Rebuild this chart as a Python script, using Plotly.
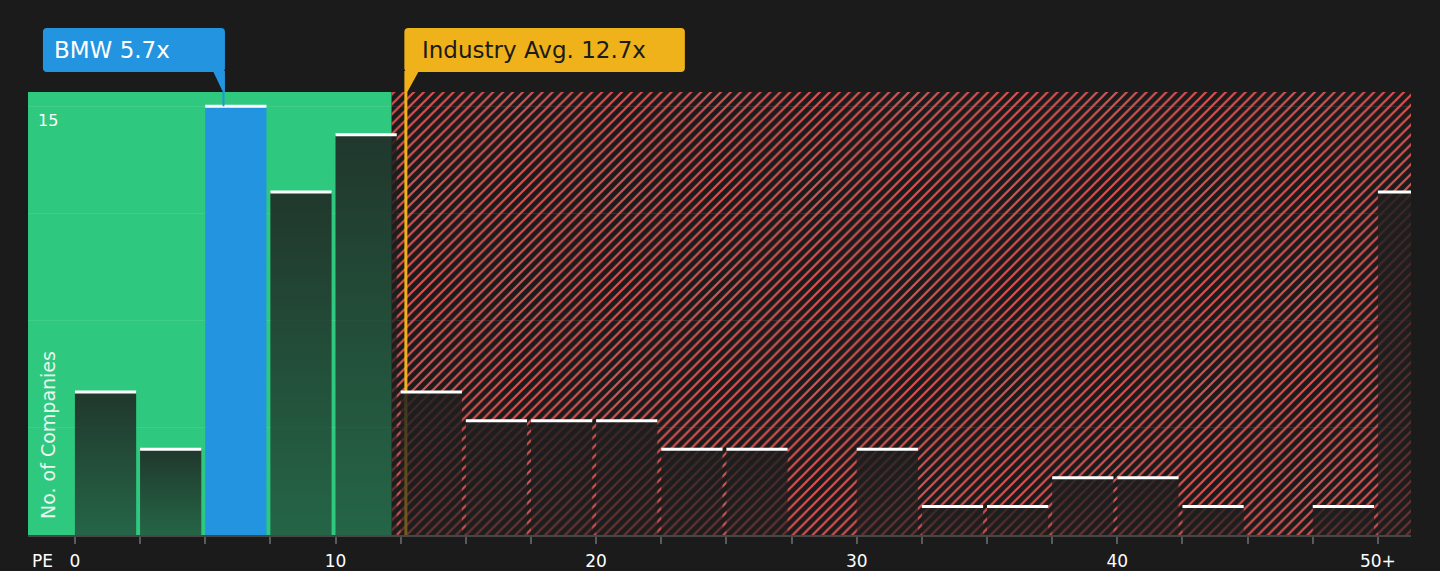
import plotly.graph_objects as go

# PE histogram, bins of 2.5, last one is "50+"
bin_left = [0, 2.5, 5, 7.5, 10, 12.5, 15, 17.5, 20, 22.5, 25, 27.5,
            30, 32.5, 35, 37.5, 40, 42.5, 45, 47.5, 50]
counts = [5, 3, 15, 12, 14, 5, 4, 4, 4, 3, 3, 0, 3, 1, 1, 2, 2, 1, 0, 1, 12]

tick_vals = [0, 10, 20, 30, 40, 50]
tick_text = ["0", "10", "20", "30", "40", "50+"]

company = "BMW"
company_pe = 5.7
industry_pe = 12.7
fair_edge = 12.15

BG = "#1b1b1b"
GREEN = "#2ec87f"
BLUE = "#2394e0"
ORANGE = "#efb21a"
HATCH = "#d85151"
FONT = "DejaVu Sans"

bar_w = 2.35
x_range = [-1.8, 51.27]
y_range = [0, 15.5]

fig = go.Figure()

# hatched "expensive" zone
fig.add_trace(go.Scatter(
    x=[fair_edge, 60, 60, fair_edge, fair_edge],
    y=[0, 0, 20, 20, 0],
    mode="none", fill="toself", fillcolor="rgba(0,0,0,0)",
    fillpattern=dict(shape="/", fgcolor=HATCH, bgcolor="rgba(0,0,0,0)",
                     fgopacity=1, size=7, solidity=0.32),
    hoverinfo="skip", showlegend=False))

# industry average line (under the bars)
fig.add_trace(go.Scatter(
    x=[industry_pe, industry_pe], y=[0, 20], mode="lines",
    line=dict(color=ORANGE, width=3), hoverinfo="skip", showlegend=False))

bmw_bin = max(i for i, l in enumerate(bin_left) if l <= company_pe)

for i, (l, c) in enumerate(zip(bin_left, counts)):
    if c == 0:
        continue
    xs = [l, l + bar_w, l + bar_w, l, l]
    ys = [0, 0, c, c, 0]
    if i == bmw_bin:
        fig.add_trace(go.Scatter(x=xs, y=ys, mode="none", fill="toself",
                                 fillcolor=BLUE, hoverinfo="skip",
                                 showlegend=False))
    else:
        fig.add_trace(go.Scatter(
            x=xs, y=ys, mode="none", fill="toself",
            fillgradient=dict(type="vertical", colorscale=[
                [0, "rgba(30,30,30,0.58)"], [1, "rgba(30,30,30,0.85)"]]),
            hoverinfo="skip", showlegend=False))

# white caps on top of the bars
cap_x, cap_y = [], []
for l, c in zip(bin_left, counts):
    if c == 0:
        continue
    cap_x += [l, l + bar_w, None]
    cap_y += [c, c, None]
fig.add_trace(go.Scatter(x=cap_x, y=cap_y, mode="lines",
                         line=dict(color="white", width=3),
                         hoverinfo="skip", showlegend=False))

# BMW marker line from bar top to plot top
fig.add_trace(go.Scatter(x=[company_pe, company_pe],
                         y=[counts[bmw_bin], 20], mode="lines",
                         line=dict(color=BLUE, width=2),
                         hoverinfo="skip", showlegend=False))


def rounded(x0, x1, y0, y1, r=4):
    return (f"M{x0+r},{y0} L{x1-r},{y0} Q{x1},{y0} {x1},{y0+r} "
            f"L{x1},{y1-r} Q{x1},{y1} {x1-r},{y1} L{x0+r},{y1} "
            f"Q{x0},{y1} {x0},{y1-r} L{x0},{y0+r} Q{x0},{y0} {x0+r},{y0} Z")


shapes = [
    dict(type="rect", xref="x", yref="paper", x0=x_range[0], x1=fair_edge,
         y0=0, y1=1, fillcolor=GREEN, line_width=0, layer="between"),
    # BMW callout
    dict(type="path", xref="x", yref="paper", xsizemode="pixel",
         ysizemode="pixel", xanchor=company_pe, yanchor=1,
         path=rounded(-180.5, 1.5, 20, 64), fillcolor=BLUE, line_width=0),
    dict(type="path", xref="x", yref="paper", xsizemode="pixel",
         ysizemode="pixel", xanchor=company_pe, yanchor=1,
         path="M-10.5,21 L1.5,21 L1.5,0 L-0.5,0 Z", fillcolor=BLUE,
         line_width=0),
    # industry callout
    dict(type="path", xref="x", yref="paper", xsizemode="pixel",
         ysizemode="pixel", xanchor=industry_pe, yanchor=1,
         path=rounded(-1.5, 279, 20, 64), fillcolor=ORANGE, line_width=0),
    dict(type="path", xref="x", yref="paper", xsizemode="pixel",
         ysizemode="pixel", xanchor=industry_pe, yanchor=1,
         path="M-1.5,21 L13,21 L1.5,0 L-1.5,0 Z", fillcolor=ORANGE,
         line_width=0),
]

annotations = [
    dict(text=f"{company} {company_pe}x", xref="x", yref="paper",
         x=company_pe, y=1, xanchor="left", yanchor="middle",
         xshift=-171.5, yshift=42, showarrow=False,
         font=dict(family=FONT, size=23, color="white")),
    dict(text=f"Industry Avg. {industry_pe}x", xref="x", yref="paper",
         x=industry_pe, y=1, xanchor="left", yanchor="middle",
         xshift=14, yshift=42, showarrow=False,
         font=dict(family=FONT, size=23, color="#1b1b1b")),
    dict(text="15", xref="paper", yref="y", x=0, y=15, xanchor="left",
         yanchor="middle", xshift=8, yshift=-14, showarrow=False,
         font=dict(family=FONT, size=16, color="white")),
    dict(text="No. of Companies", xref="paper", yref="paper", x=0, y=0,
         xanchor="center", yanchor="bottom", xshift=20, yshift=14,
         textangle=-90, showarrow=False,
         font=dict(family=FONT, size=19, color="#e8f5ee")),
    dict(text="PE", xref="paper", yref="paper", x=0, y=0, xanchor="center",
         yanchor="middle", xshift=14, yshift=-26, showarrow=False,
         font=dict(family=FONT, size=17, color="white")),
]

minor_ticks = bin_left[:]
fig.update_layout(
    width=1440, height=571,
    margin=dict(l=28, r=29, t=92, b=36),
    paper_bgcolor=BG, plot_bgcolor=BG,
    shapes=shapes, annotations=annotations,
    showlegend=False,
    font=dict(family=FONT, color="white"),
    xaxis=dict(range=x_range, showgrid=False, zeroline=False,
               automargin=False,
               tickvals=tick_vals, ticktext=tick_text,
               ticks="", showline=True, linecolor="#474747", linewidth=2,
               tickfont=dict(size=17, color="white"),
               ticklabelstandoff=10,
               minor=dict(tickvals=minor_ticks, ticks="outside", ticklen=7,
                          tickcolor="#5a5a5a", tickwidth=1.5)),
    yaxis=dict(range=y_range, tickvals=[3.75, 7.5, 11.25, 15],
               automargin=False,
               showticklabels=False, gridcolor="rgba(255,255,255,0.09)",
               gridwidth=1, zeroline=False),
)

fig.write_html("out.html", config={"displayModeBar": False},
               post_script="document.body.style.margin='0';"
                           "document.body.style.background='#1b1b1b';")
